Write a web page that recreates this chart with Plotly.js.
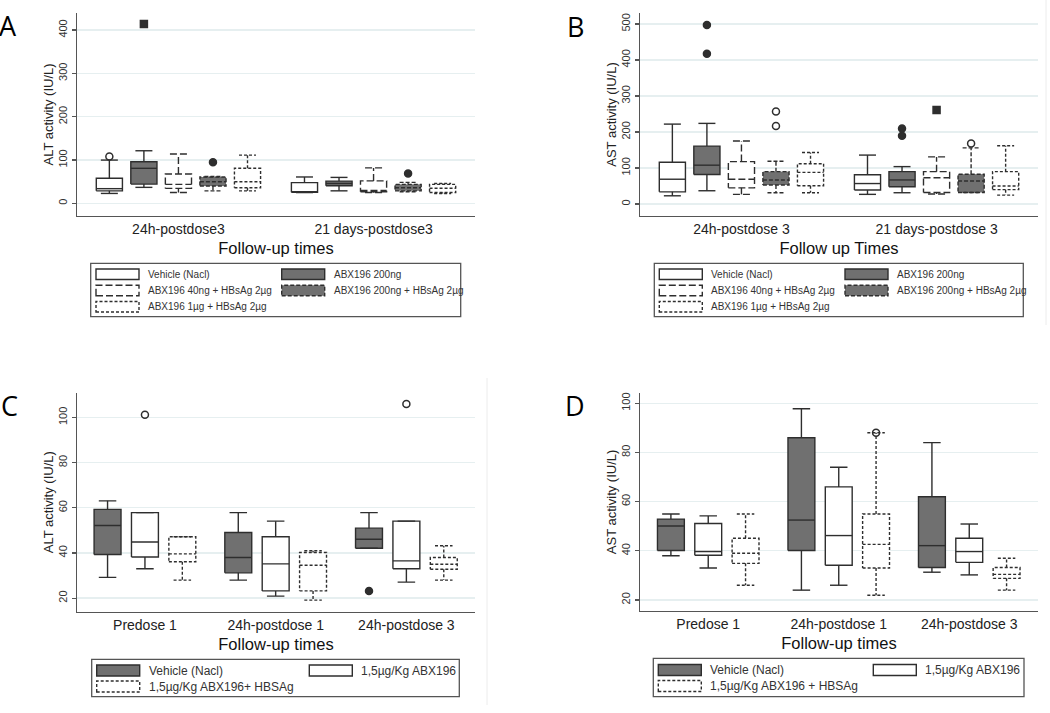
<!DOCTYPE html>
<html>
<head>
<meta charset="utf-8">
<script src="https://cdn.plot.ly/plotly-3.0.1.min.js"></script>
<style>
  html, body { margin: 0; padding: 0; background: #fff; }
  #chart { width: 1050px; height: 713px; }
</style>
</head>
<body>
<div id="chart"></div>
<script>
// ---- data ----
var abGroups = ['Vehicle (Nacl)', 'ABX196 200ng', 'ABX196 40ng + HBsAg 2µg', 'ABX196 200ng + HBsAg 2µg', 'ABX196 1µg + HBsAg 2µg'];
var cGroups = ['Vehicle (Nacl)', '1,5µg/Kg ABX196', '1,5µg/Kg ABX196+ HBSAg'];
var dGroups = ['Vehicle (Nacl)', '1,5µg/Kg ABX196', '1,5µg/Kg ABX196 + HBSAg'];

var aTimes = ['24h-postdose3', '21 days-postdose3'];
var bTimes = ['24h-postdose 3', '21 days-postdose 3'];
var cdTimes = ['Predose 1', '24h-postdose 1', '24h-postdose 3'];

// panel A - ALT, [group][time]
var aLow  = [[23, 25], [37, 29], [25, 25], [29, 27], [29, 23]];
var aQ1   = [[29, 25.5], [44.6, 40.6], [34.6, 27], [40, 29], [36, 25]];
var aMed  = [[34, 27], [81, 46], [44, 30], [50, 36], [50, 35]];
var aQ3   = [[58, 48], [96, 51.5], [67.7, 52], [61, 44], [81, 44]];
var aHigh = [[100, 61], [121.5, 60], [114, 82], [62, 48.5], [111.5, 46]];
var aOutGroup = [0, 1, 3, 3];
var aOutTime  = [0, 0, 0, 1];
var aOutVal   = [108, 414, 95, 69];
var aOutSym   = ['circle-open', 'square', 'circle', 'circle'];

// panel B - AST
var bLow  = [[23, 27], [37, 31.5], [27, 28], [31.5, 32], [31.5, 25]];
var bQ1   = [[34, 39], [82, 48], [45, 32], [53, 32], [51, 40]];
var bMed  = [[69, 57], [108, 67], [69, 73], [67, 64], [88, 50]];
var bQ3   = [[116, 81.5], [161, 90], [118, 90], [90, 83], [112, 90]];
var bHigh = [[222, 136], [224, 104], [175, 131], [119, 156], [143, 162]];
var bOutGroup = [1, 1, 3, 3, 1, 1, 2, 3];
var bOutTime  = [0, 0, 0, 0, 1, 1, 1, 1];
var bOutVal   = [497, 417, 257, 217, 210, 190, 261, 168];
var bOutSym   = ['circle', 'circle', 'circle-open', 'circle-open', 'circle', 'circle', 'square', 'circle-open'];

// panel C - ALT
var cLow  = [[29.2, 28, 42.1], [33, 20.9, 27.1], [28, 19.1, 28]];
var cQ1   = [[39.3, 31.2, 42.1], [38.2, 23.2, 33], [36.1, 23.2, 32.8]];
var cMed  = [[52.2, 38, 46.1], [44.9, 35.2, 36.5], [39.6, 34.6, 35]];
var cQ3   = [[59.3, 49.1, 51], [57.9, 47.2, 54.1], [47.2, 40.2, 38]];
var cHigh = [[63.1, 57.9, 57.9], [57.9, 54.1, 54.1], [47.2, 41, 43.2]];
var cOutGroup = [1, 1, 0];
var cOutTime  = [0, 2, 2];
var cOutVal   = [101.2, 106, 23.2];
var cOutSym   = ['circle-open', 'circle-open', 'circle'];

// panel D - AST
var dLow  = [[38, 24, 31.3], [33, 26, 30.2], [26, 21.9, 24]];
var dQ1   = [[40.1, 40.1, 33.2], [38.2, 34.1, 35.3], [34.9, 33, 28.8]];
var dMed  = [[50.1, 52.5, 42.1], [39.7, 46.2, 39.7], [39, 42.6, 30.4]];
var dQ3   = [[52.9, 86, 62], [51.1, 66, 45.1], [45.1, 55, 33.2]];
var dHigh = [[55, 97.8, 84], [54.2, 74, 50.9], [55, 88, 37]];
var dOutGroup = [2];
var dOutTime  = [1];
var dOutVal   = [88];
var dOutSym   = ['circle-open'];

// ---- styles ----
var GRAY = '#707070', INK = '#2e2e2e', AXIS = '#555', GRID = '#e6eff0';
var FONT = '"Liberation Sans", Arial, sans-serif';
var abFill = ['#fff', GRAY, '#fff', GRAY, '#fff'];
var abDash = ['solid', 'solid', '7px,3px', '4px,2px', '3px,2px'];
var cdFill = [GRAY, '#fff', '#fff'];
var cdDash = ['solid', 'solid', '3px,2px'];
var abOff = [-0.354, -0.177, 0, 0.177, 0.354];
var cdOff = [-0.286, 0, 0.286];

var traces = [];

function addBoxes(n, lo, q1, med, q3, hi, fills, dashes, offs, hw) {
  var xa = n === 1 ? 'x' : 'x' + n, ya = n === 1 ? 'y' : 'y' + n;
  for (var s = 0; s < lo.length; s++) {
    for (var t = 0; t < lo[s].length; t++) {
      var xc = t + offs[s], x0 = xc - hw, x1 = xc + hw, cw = hw * 0.65;
      var ln = {color: INK, width: 1.4, dash: dashes[s]};
      traces.push({
        type: 'scatter', mode: 'lines', xaxis: xa, yaxis: ya,
        x: [x0, x1, x1, x0, x0],
        y: [q1[s][t], q1[s][t], q3[s][t], q3[s][t], q1[s][t]],
        fill: 'toself', fillcolor: fills[s], line: ln,
        hoverinfo: 'skip', showlegend: false
      });
      traces.push({
        type: 'scatter', mode: 'lines', xaxis: xa, yaxis: ya,
        x: [x0, x1, null, xc, xc, null, xc - cw, xc + cw, null, xc, xc, null, xc - cw, xc + cw],
        y: [med[s][t], med[s][t], null, q3[s][t], hi[s][t], null, hi[s][t], hi[s][t], null,
            q1[s][t], lo[s][t], null, lo[s][t], lo[s][t]],
        line: ln, hoverinfo: 'skip', showlegend: false
      });
    }
  }
}

function addOutliers(n, grp, time, vals, syms, offs) {
  traces.push({
    type: 'scatter', mode: 'markers',
    xaxis: n === 1 ? 'x' : 'x' + n, yaxis: n === 1 ? 'y' : 'y' + n,
    x: grp.map(function(g, i) { return time[i] + offs[g]; }),
    y: vals,
    marker: {symbol: syms, size: 7, color: INK, line: {color: INK, width: 1.5}},
    hoverinfo: 'y', showlegend: false
  });
}

addBoxes(1, aLow, aQ1, aMed, aQ3, aHigh, abFill, abDash, abOff, 0.067);
addBoxes(2, bLow, bQ1, bMed, bQ3, bHigh, abFill, abDash, abOff, 0.067);
addBoxes(3, cLow, cQ1, cMed, cQ3, cHigh, cdFill, cdDash, cdOff, 0.103);
addBoxes(4, dLow, dQ1, dMed, dQ3, dHigh, cdFill, cdDash, cdOff, 0.103);
addOutliers(1, aOutGroup, aOutTime, aOutVal, aOutSym, abOff);
addOutliers(2, bOutGroup, bOutTime, bOutVal, bOutSym, abOff);
addOutliers(3, cOutGroup, cOutTime, cOutVal, cOutSym, cdOff);
addOutliers(4, dOutGroup, dOutTime, dOutVal, dOutSym, cdOff);

// ---- axes ----
function xax(dom, anchor, range, cats, title) {
  return {
    domain: dom, anchor: anchor, range: range,
    tickmode: 'array', tickvals: cats.map(function(c, i) { return i; }), ticktext: cats,
    ticks: '', showline: true, linecolor: AXIS, linewidth: 1.3,
    showgrid: false, zeroline: false, fixedrange: true,
    tickfont: {family: FONT, size: 14, color: '#222'},
    title: {text: title, font: {family: FONT, size: 16.5, color: '#111'}, standoff: 6}
  };
}
function yax(dom, anchor, range, tick0, dtick, title) {
  return {
    domain: dom, anchor: anchor, range: range,
    tickmode: 'linear', tick0: tick0, dtick: dtick, tickangle: -90,
    ticks: 'outside', ticklen: 4, tickcolor: AXIS, tickwidth: 1.2,
    showline: true, linecolor: AXIS, linewidth: 1.3,
    showgrid: true, gridcolor: GRID, gridwidth: 1.3, zeroline: false, fixedrange: true,
    tickfont: {family: FONT, size: 11, color: '#333'},
    title: {text: title, font: {family: FONT, size: 13, color: '#222'}, standoff: 0}
  };
}

// ---- legends (Stata style keys) ----
var shapes = [], annotations = [];
function px(x) { return x / 1050; }
function py(y) { return 1 - y / 713; }

function drawLegend(box, colX, rowY, keyH, names, fills, dashes, fsize) {
  shapes.push({type: 'rect', xref: 'paper', yref: 'paper',
    x0: px(box[0]), x1: px(box[2]), y0: py(box[3]), y1: py(box[1]),
    line: {color: AXIS, width: 1.3}, fillcolor: 'rgba(0,0,0,0)'});
  names.forEach(function(nm, i) {
    var cx = colX[i % 2], cy = rowY[Math.floor(i / 2)];
    shapes.push({type: 'rect', xref: 'paper', yref: 'paper',
      x0: px(cx), x1: px(cx + 43), y0: py(cy + keyH / 2), y1: py(cy - keyH / 2),
      line: {color: INK, width: 1.4, dash: dashes[i]}, fillcolor: fills[i]});
    annotations.push({xref: 'paper', yref: 'paper', x: px(cx + 50), y: py(cy),
      xanchor: 'left', yanchor: 'middle', showarrow: false, text: nm,
      font: {family: FONT, size: fsize, color: '#333'}});
  });
}

drawLegend([90.7, 263.3, 460.7, 316.7], [96, 281.7], [274.3, 290.5, 306.7], 10.5, abGroups, abFill, abDash, 10);
drawLegend([654.3, 263.3, 1023.3, 316.7], [659.3, 845], [274.3, 290.5, 306.7], 10.5, abGroups, abFill, abDash, 10);
drawLegend([91.7, 659.3, 459.3, 696.7], [96.7, 309.3], [670.5, 686.5], 11, cGroups, cdFill, cdDash, 12);
drawLegend([653.3, 658.3, 1024, 696.7], [658.3, 873.3], [670, 686], 11, dGroups, cdFill, cdDash, 12);

// panel letters
[['A', 8, 25], ['B', 575, 26], ['C', 9, 405], ['D', 575, 405]].forEach(function(p) {
  annotations.push({xref: 'paper', yref: 'paper', x: px(p[1]), y: py(p[2]),
    xanchor: 'center', yanchor: 'middle', showarrow: false, text: p[0],
    font: {family: '"Open Sans", sans-serif', size: 27, color: '#000'}});
});

// faint image edges
shapes.push({type: 'line', xref: 'paper', yref: 'paper', x0: px(1046), x1: px(1046), y0: py(325), y1: py(0), line: {color: '#ececec', width: 1}});
shapes.push({type: 'line', xref: 'paper', yref: 'paper', x0: px(487), x1: px(487), y0: py(705), y1: py(378), line: {color: '#ececec', width: 1}});

var layout = {
  width: 1050, height: 713,
  margin: {l: 0, r: 0, t: 0, b: 0},
  paper_bgcolor: '#fff', plot_bgcolor: '#fff',
  showlegend: false,
  font: {family: FONT},
  xaxis:  xax([0.0733, 0.4524], 'y',  [-0.52, 1.52], aTimes, 'Follow-up times'),
  yaxis:  yax([0.6971, 0.9818], 'x',  [-29, 439.5], 0, 100, 'ALT activity (IU/L)'),
  xaxis2: xax([0.6095, 0.9886], 'y2', [-0.52, 1.52], bTimes, 'Follow up Times'),
  yaxis2: yax([0.6971, 0.9818], 'x2', [-33, 530.5], 0, 100, 'AST activity (IU/L)'),
  xaxis3: xax([0.0733, 0.4524], 'y3', [-0.52, 2.525], cdTimes, 'Follow-up times'),
  yaxis3: yax([0.1421, 0.4492], 'x3', [14, 111], 20, 20, 'ALT activity (IU/L)'),
  xaxis4: xax([0.6095, 0.9886], 'y4', [-0.523, 2.527], cdTimes, 'Follow-up times'),
  yaxis4: yax([0.1430, 0.4492], 'x4', [15.5, 104.3], 20, 20, 'AST activity (IU/L)'),
  shapes: shapes,
  annotations: annotations
};

Plotly.newPlot('chart', traces, layout, {displayModeBar: false, staticPlot: true});
</script>
</body>
</html>
